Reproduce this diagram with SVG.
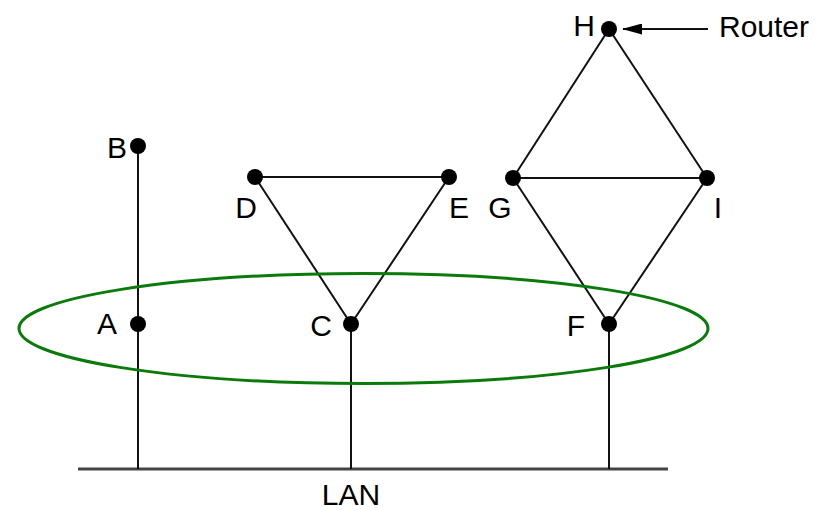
<svg xmlns="http://www.w3.org/2000/svg" width="822" height="510" viewBox="0 0 822 510">
<defs>
<style>
.e{stroke:#111;stroke-width:2;fill:none}
.n{fill:#000}
.t{font-family:"Liberation Sans",Arial,sans-serif;font-size:30px;fill:#000}
</style>
<marker id="ah" markerWidth="20" markerHeight="11" refX="19" refY="5.5" orient="auto" markerUnits="userSpaceOnUse">
<path d="M0,0 L20,5.5 L0,11 Z" fill="#000"/>
</marker>
</defs>
<rect width="822" height="510" fill="#fff"/>
<g id="connectors">
<line class="e" x1="78" y1="469" x2="668" y2="469" style="stroke:#444;stroke-width:3"/>
<line class="e" x1="138" y1="146" x2="138" y2="469"/>
<line class="e" x1="351" y1="324" x2="351" y2="469"/>
<line class="e" x1="609" y1="324" x2="609" y2="469"/>
<line class="e" x1="255" y1="177" x2="449" y2="177"/>
<line class="e" x1="255" y1="177" x2="351" y2="324"/>
<line class="e" x1="449" y1="177" x2="351" y2="324"/>
<line class="e" x1="513" y1="178" x2="707" y2="178"/>
<line class="e" x1="609" y1="29" x2="513" y2="178"/>
<line class="e" x1="609" y1="29" x2="707" y2="178"/>
<line class="e" x1="513" y1="178" x2="609" y2="324"/>
<line class="e" x1="707" y1="178" x2="609" y2="324"/>
<line class="e" x1="708" y1="29" x2="623" y2="29" marker-end="url(#ah)"/>
</g>
<ellipse id="broadcast-area" cx="363.5" cy="328.5" rx="344.5" ry="55" fill="none" stroke="#0a7a0a" stroke-width="3"/>
<g id="node-B"><circle class="n" cx="138" cy="146" r="8"/><text class="t" x="127" y="158" text-anchor="end">B</text></g>
<g id="node-A"><circle class="n" cx="138" cy="324" r="8"/><text class="t" x="117" y="334" text-anchor="end">A</text></g>
<g id="node-D"><circle class="n" cx="255" cy="177" r="8"/><text class="t" x="246" y="218" text-anchor="middle">D</text></g>
<g id="node-E"><circle class="n" cx="449" cy="177" r="8"/><text class="t" x="459" y="218" text-anchor="middle">E</text></g>
<g id="node-C"><circle class="n" cx="351" cy="324" r="8"/><text class="t" x="332" y="336" text-anchor="end">C</text></g>
<g id="node-H"><circle class="n" cx="609" cy="29" r="8"/><text class="t" x="595" y="36" text-anchor="end">H</text></g>
<g id="node-G"><circle class="n" cx="513" cy="178" r="8"/><text class="t" x="500" y="218" text-anchor="middle">G</text></g>
<g id="node-I"><circle class="n" cx="707" cy="178" r="8"/><text class="t" x="718" y="218" text-anchor="middle">I</text></g>
<g id="node-F"><circle class="n" cx="609" cy="324" r="8"/><text class="t" x="585" y="336" text-anchor="end">F</text></g>
<g id="labels">
<text class="t" x="719" y="37">Router</text>
<text class="t" x="351" y="505" text-anchor="middle">LAN</text>
</g>
</svg>
